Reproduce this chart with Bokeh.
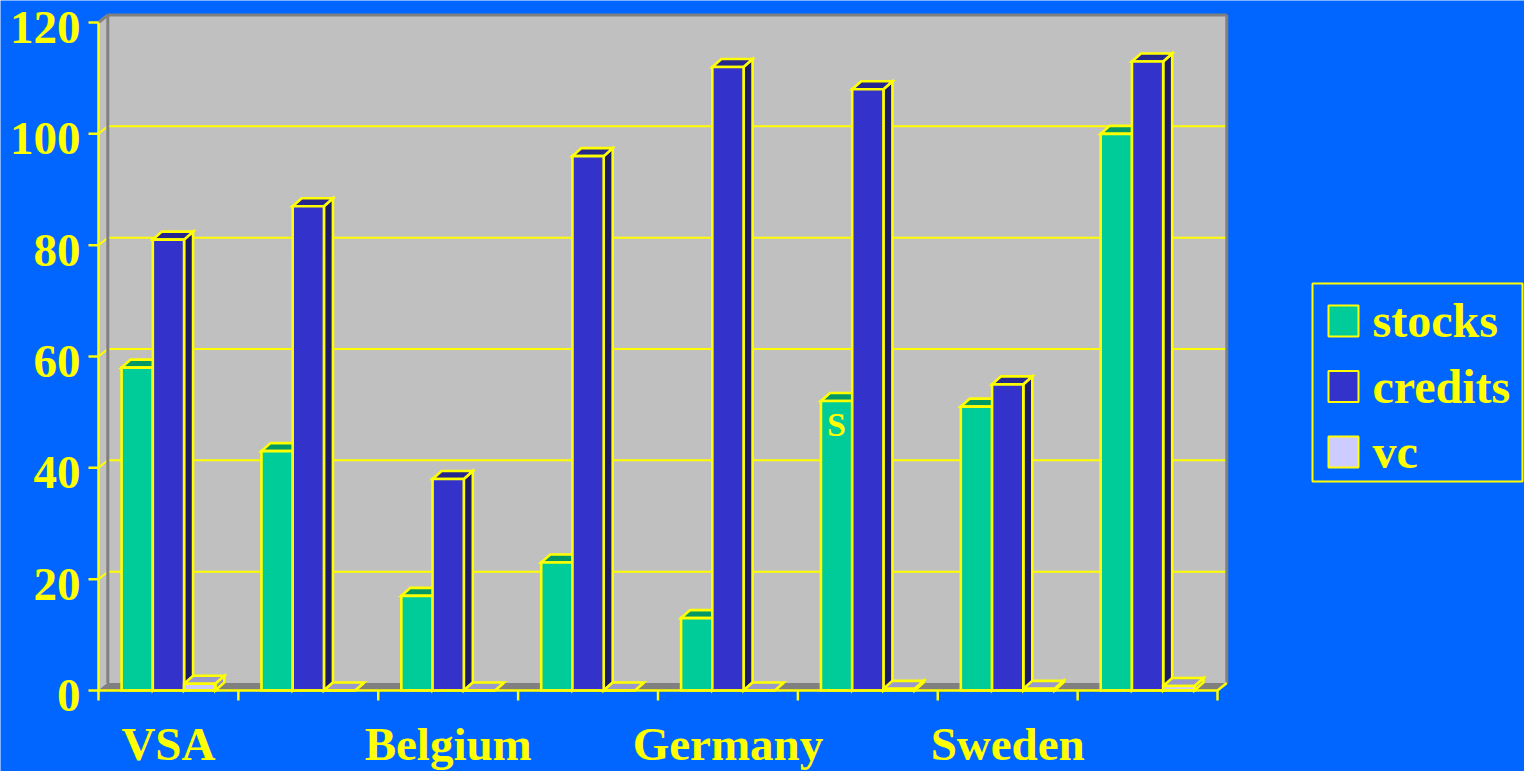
from bokeh.plotting import figure
from bokeh.models import Range1d, ColumnDataSource
from bokeh.core.properties import value
from bokeh.embed import file_html
from bokeh.resources import INLINE

# ---- data -------------------------------------------------------------
categories = ["VSA", "", "Belgium", "", "Germany", "", "Sweden", ""]
series_names = ["stocks", "credits", "vc"]
stocks = [58, 43, 17, 23, 13, 52, 51, 100]
credits = [81, 87, 38, 96, 112, 108, 55, 113]
vc = [1.2, 0, 0, 0, 0, 0.3, 0.3, 0.8]
y_ticks = [0, 20, 40, 60, 80, 100, 120]
y_tick_labels = ["0", "20", "40", "60", "80", "100", "120"]
bar_note = "S"   # small letter printed on the stocks bar of the sixth group

# ---- styling ------------------------------------------------------------
W, H = 1524, 771
BG = "#0066FF"
YELLOW = "#FFFF00"
WALL = "#C0C0C0"
FLOOR = "#808080"
EDGE = "#808080"
FONT = value("Liberation Serif")

front_cols = ["#00CC99", "#3333CC", "#CCCCFF"]
top_cols = ["#009966", "#26268F", "#9999CC"]
side_cols = ["#006644", "#1A1A66", "#9090C0"]

# screen scale: pixels per category and per value unit
PXX = 139.875
PXY = 668 / 120.0
LEFT_PX = 98
BASE_PX = 81          # baseline height above the bottom of the canvas
BASE_TOP = H - BASE_PX


def sx(px):
    """screen x (from left) -> category units"""
    return (px - LEFT_PX) / PXX


def sy(py):
    """screen y (from top) -> value units"""
    return (BASE_TOP - py) / PXY


# oblique depth of the 3D box (screen px -> data units)
DX = 9.3 / PXX
DY = 7.5 / PXY
BDX = 9.0 / PXX
BDY = 8.0 / PXY
BW = 0.2233           # bar width in category units
NCAT = len(categories)
YMAX = y_ticks[-1]

p = figure(width=W, height=H, output_backend="svg", toolbar_location=None,
           x_range=Range1d(sx(0), sx(W)), y_range=Range1d(sy(H), sy(0)),
           x_axis_location=None, y_axis_location=None, min_border=0)
p.background_fill_color = BG
p.border_fill_color = BG
p.outline_line_color = None
p.xgrid.visible = False
p.ygrid.visible = False

# ---- walls and floor ---------------------------------------------------
p.patch([0, DX, DX, 0], [0, DY, YMAX + DY, YMAX], fill_color=WALL, line_color=None)
p.quad(left=[DX], right=[NCAT + DX], bottom=[DY], top=[YMAX + DY],
       fill_color=WALL, line_color=None)
p.patch([0, NCAT, NCAT + DX, DX], [0, 0, DY, DY], fill_color=FLOOR, line_color=None)

# gridlines on back wall and left wall
grid_vals = [t for t in y_ticks if 0 < t < YMAX]
p.multi_line([[DX, NCAT + DX] for _ in grid_vals], [[t + DY, t + DY] for t in grid_vals],
             line_color=YELLOW, line_width=2)
p.multi_line([[0, DX] for _ in grid_vals], [[t, t + DY] for t in grid_vals],
             line_color=YELLOW, line_width=2)

# wall edges
p.multi_line([[DX, DX], [DX, NCAT + DX], [NCAT + DX, NCAT + DX], [0, DX]],
             [[DY, YMAX + DY], [YMAX + DY, YMAX + DY], [DY, YMAX + DY], [YMAX, YMAX + DY]],
             line_color=EDGE, line_width=3)

# ---- bars --------------------------------------------------------------
all_series = [stocks, credits, vc]
sides = {"xs": [], "ys": [], "c": []}
tops = {"xs": [], "ys": [], "c": []}
fronts = []
for k, vals in enumerate(all_series):
    fl, fr, ft = [], [], []
    for i, v in enumerate(vals):
        x0 = i + 0.5 - 1.5 * BW + k * BW
        x1 = x0 + BW
        sides["xs"].append([x1, x1 + BDX, x1 + BDX, x1])
        sides["ys"].append([0, BDY, v + BDY, v])
        sides["c"].append(side_cols[k])
        tops["xs"].append([x0, x1, x1 + BDX, x0 + BDX])
        tops["ys"].append([v, v, v + BDY, v + BDY])
        tops["c"].append(top_cols[k])
        fl.append(x0)
        fr.append(x1)
        ft.append(v)
    fronts.append((fl, fr, ft))

OUT_W = 2.6
p.patches("xs", "ys", source=ColumnDataSource(sides), fill_color="c",
          line_color=YELLOW, line_width=OUT_W, line_join="miter")
p.patches("xs", "ys", source=ColumnDataSource(tops), fill_color="c",
          line_color=YELLOW, line_width=OUT_W, line_join="miter")
for k, (fl, fr, ft) in enumerate(fronts):
    p.quad(left=fl, right=fr, bottom=[0] * len(fl), top=ft,
           fill_color=front_cols[k], line_color=YELLOW, line_width=OUT_W,
           line_join="miter")

# letter on the sixth stocks bar
p.text(x=[5 + 0.5 - BW], y=[stocks[5]], text=[bar_note], text_color=YELLOW,
       text_font=FONT, text_font_style="bold", text_font_size="34px",
       text_align="center", text_baseline="middle", y_offset=23)

# ---- axes --------------------------------------------------------------
p.line([0, 0], [0, YMAX], line_color=YELLOW, line_width=2.5)
p.line([0, NCAT, NCAT + DX], [0, 0, DY], line_color=YELLOW, line_width=2.5)
# y ticks
p.multi_line([[-10 / PXX, 0] for _ in y_ticks], [[t, t] for t in y_ticks],
             line_color=YELLOW, line_width=2.5)
# x ticks at category boundaries
p.multi_line([[i, i] for i in range(NCAT + 1)], [[0, -10 / PXY] for _ in range(NCAT + 1)],
             line_color=YELLOW, line_width=2.5)

p.text(x=[sx(80)] * len(y_ticks), y=y_ticks, text=y_tick_labels,
       text_color=YELLOW, text_font=FONT, text_font_style="bold",
       text_font_size="47px", text_align="right", text_baseline="middle", y_offset=5)

lab_x = [i + 0.5 for i, c in enumerate(categories) if c]
lab_t = [c for c in categories if c]
p.text(x=lab_x, y=[0] * len(lab_x), text=lab_t, text_color=YELLOW, text_font=FONT,
       text_font_style="bold", text_font_size="47px", text_align="center",
       text_baseline="alphabetic", y_offset=53)

# ---- legend ------------------------------------------------------------
p.quad(left=[sx(1312)], right=[sx(1522)], bottom=[sy(481)], top=[sy(283)],
       fill_color=BG, line_color=YELLOW, line_width=2)
row_base = [336, 401.5, 467]          # baseline of each legend row (screen px)
p.quad(left=[sx(1328)] * 3, right=[sx(1358)] * 3,
       bottom=[sy(b) for b in row_base], top=[sy(b - 31) for b in row_base],
       fill_color=front_cols, line_color=YELLOW, line_width=2)
p.text(x=[sx(1372)] * 3, y=[sy(b) for b in row_base], text=series_names,
       text_color=YELLOW, text_font=FONT, text_font_style="bold",
       text_font_size="48px", text_align="left", text_baseline="alphabetic",
       y_offset=-16)

open("out.html", "w").write(file_html(p, INLINE))
